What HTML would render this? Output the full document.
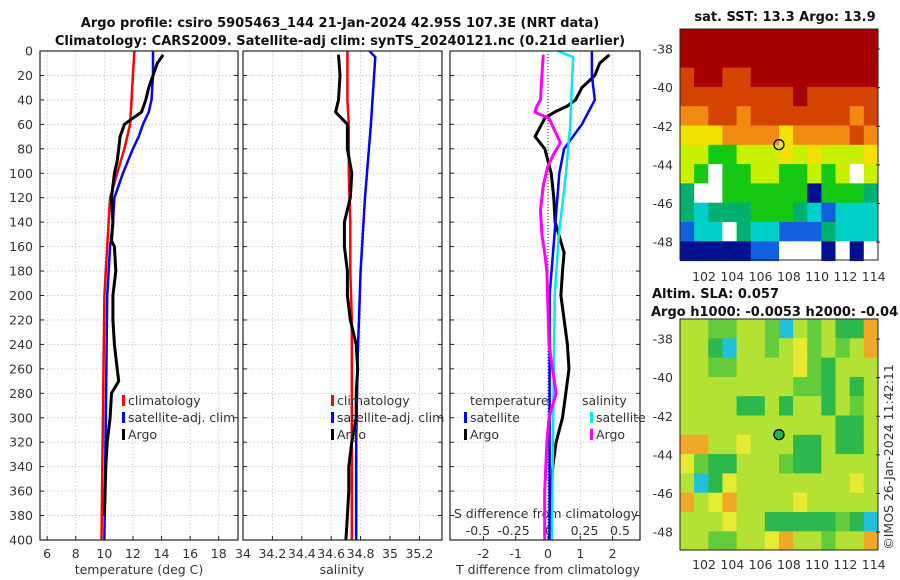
<!DOCTYPE html>
<html><head><meta charset="utf-8">
<style>
html,body{margin:0;padding:0;background:#fff;}
svg{display:block;font-family:"DejaVu Sans","Liberation Sans",sans-serif;}
.t{font-size:12.5px;fill:#333;}
.b{font-size:13px;font-weight:bold;fill:#111;}
</style></head>
<body>
<svg id="fig" width="900" height="580" viewBox="0 0 900 580">
<defs>
<clipPath id="clip2"><rect x="680" y="319" width="198" height="231"/></clipPath>
</defs>
<text class="b" x="340" y="27" text-anchor="middle">Argo profile: csiro 5905463_144 21-Jan-2024 42.95S 107.3E (NRT data)</text>
<text class="b" x="340" y="45" text-anchor="middle">Climatology: CARS2009. Satellite-adj clim: synTS_20240121.nc (0.21d earlier)</text>
<g id="g"></g>
</svg>
<script>
// ---------- data ----------
const depthTicks=[0,20,40,60,80,100,120,140,160,180,200,220,240,260,280,300,320,340,360,380,400];
const tempTicks=[6,8,10,12,14,16,18];
const salTicks=[34,34.2,34.4,34.6,34.8,35,35.2];
const salTickLabels=["34","34.2","34.4","34.6","34.8","35","35.2"];
const dtTicks=[-2,-1,0,1,2];
const dsTicks=[-0.5,-0.25,0,0.25,0.5];
const dsTickLabels=["-0.5","-0.25","0","0.25","0.5"];

const tClimD=[0,20,40,60,80,100,120,160,200,300,400];
const tClimV=[12.1,12.0,11.9,11.8,11.4,10.9,10.4,10.2,10.0,9.9,9.8];
const tSatD=[0,20,40,50,60,70,80,100,120,140,160,200,300,400];
const tSatV=[13.4,13.4,13.3,13.1,12.7,12.4,12.0,11.3,10.7,10.6,10.4,10.2,10.1,10.0];
const tArgoD=[3,5,10,20,30,40,50,55,60,70,80,90,100,120,140,155,160,180,200,220,240,260,270,280,300,320,340,380];
const tArgoV=[14.1,14.0,13.7,13.4,13.1,12.9,12.6,12.0,11.4,11.1,11.0,10.9,10.7,10.5,10.6,10.5,10.7,10.8,10.6,10.6,10.7,10.9,11.0,10.5,10.4,10.2,10.1,10.0];

const sClimD=[0,40,60,100,140,180,220,300,400];
const sClimV=[34.71,34.71,34.72,34.72,34.73,34.73,34.74,34.74,34.74];
const sSatD=[0,5,60,120,180,250,320,400];
const sSatV=[34.86,34.9,34.87,34.83,34.8,34.78,34.77,34.77];
const sArgoD=[3,20,40,50,60,80,100,120,140,160,180,200,220,240,260,280,300,320,340,360,380,400];
const sArgoV=[34.65,34.66,34.65,34.63,34.71,34.71,34.74,34.73,34.69,34.69,34.71,34.71,34.73,34.77,34.78,34.77,34.77,34.74,34.72,34.72,34.71,34.70];

const dtSatD=[0,20,40,60,80,100,150,200,300,400];
const dtSatV=[1.36,1.36,1.45,1.05,0.5,0.35,0.2,0.05,0.05,0.05];
const dtArgoD=[3,10,20,30,40,45,50,55,70,80,90,100,120,140,165,180,200,240,260,280,300,320,340,360,400];
const dtArgoV=[1.9,1.6,1.45,1.05,0.85,0.6,0.2,-0.1,-0.4,-0.1,0.0,0.1,0.18,0.22,0.5,0.45,0.4,0.6,0.65,0.55,0.45,0.25,0.15,0.1,0.05];
const dsSatD=[0,5,60,100,150,200,300,400];
const dsSatV=[0.06,0.17,0.15,0.12,0.07,0.04,0.03,0.02];
const dsArgoD=[3,20,40,45,50,55,65,75,85,95,110,130,150,165,180,200,240,280,300,320,360,400];
const dsArgoV=[-0.04,-0.05,-0.06,-0.085,-0.1,0.0,0.04,0.08,0.03,-0.01,-0.04,-0.06,-0.05,-0.03,-0.015,-0.01,0.0,0.05,0.0,-0.015,-0.03,-0.03];

const mapLonTicks=[102,104,106,108,110,112,114];
const mapLatTicks=[-38,-40,-42,-44,-46,-48];
const sstRows=["RRRRRRRRRRRRRR","RRRRRRRRRRRRRR","ORROORRRRRRRRR","OOOOOOOOROOOOO","ooOOoOOOOOOOoO","YYYooooYooooOo","yyGGyyyYyYyyyY","yG.GGyyGGyGy.y","g..GGGGGGNGGGg","gCgggGGGgCBCCC","BCC.gCCBBBgCCC","NNNNNBB...N.N."];
const slaRows=["33223320323115","33103323423235","33223333421333","33333333221313","33331131331323","33333333333113","55334333113113","42113332113333","30143333333343","53453333433333","33343311111210","33223345332335"];
const argoLon=107.3, argoLat=-42.95;

// ---------- helpers ----------
const NS="http://www.w3.org/2000/svg";
const G=document.getElementById('g');
function mk(tag,attrs,parent){const e=document.createElementNS(NS,tag);for(const k in attrs)e.setAttribute(k,attrs[k]);(parent||G).appendChild(e);return e;}
const py=d=>51+d*1.2225;
const pT=v=>40+(v-5.5)*14.3;
const pS=v=>243+(v-34)*147;
const pDT=v=>548+v*32.3;
const pDS=v=>549+v*142;
const mx=lon=>680+(lon-100.3)*14.14;
const my1=lat=>29+(-36.96-lat)*19.3;
const my2=lat=>319+(-36.96-lat)*19.3;

function frame(x0,x1,name){
  const r=mk('rect',{x:x0,y:51,width:x1-x0,height:489,fill:'none',stroke:'#222','stroke-width':1.2});
  
  
}
function grid(x0,x1,xs){
  depthTicks.forEach(d=>{
    const l=mk('line',{x1:x0,x2:x1,y1:py(d),y2:py(d),stroke:'#b8c4ec','stroke-dasharray':'1.5,2','stroke-width':0.8});
    
    
    mk('line',{x1:x0,x2:x0+4,y1:py(d),y2:py(d),stroke:'#222'});
    mk('line',{x1:x1-4,x2:x1,y1:py(d),y2:py(d),stroke:'#222'});
  });
  xs.forEach(x=>{
    const l=mk('line',{x1:x,x2:x,y1:51,y2:540,stroke:'#d4bcd8','stroke-dasharray':'1.5,2','stroke-width':0.8});
    
    
    mk('line',{x1:x,x2:x,y1:536,y2:540,stroke:'#222'});
  });
}
function line(D,V,fx,color,w,name){
  const pts=D.map((d,i)=>fx(V[i]).toFixed(1)+','+py(d).toFixed(1)).join(' ');
  const p=mk('polyline',{points:pts,fill:'none',stroke:color,'stroke-width':w,'stroke-linejoin':'round'});
  
  
}
function txt(x,y,s,anchor,cls,name,extra){
  const t=mk('text',Object.assign({x:x,y:y,'text-anchor':anchor||'start',class:cls||'t'},extra||{}));
  t.textContent=s;
  
  
  return t;
}
function legend(x,y,color,label,name){
  const r=mk('rect',{x:x,y:y-10,width:3,height:11,fill:color});
  
  
  txt(x+6,y,label,'start','t',name);
}

// ---------- panel 1: temperature ----------
grid(40,238,tempTicks.map(pT));
depthTicks.forEach(d=>txt(33,py(d)+4.5,String(d),'end','t','y-tick-label'));
tempTicks.forEach(v=>txt(pT(v),558,String(v),'middle','t','x-tick-label-temp'));
txt(139,574,'temperature (deg C)','middle','t','x-axis-title-temp');
line(tClimD,tClimV,pT,'#ff0000',2.5,'temp-climatology-line');
line(tSatD,tSatV,pT,'#0000ff',2.5,'temp-satellite-line');
line(tArgoD,tArgoV,pT,'#000000',3,'temp-argo-line');
frame(40,238,'temperature-panel');
legend(122,405,'#ff0000','climatology','legend-climatology');
legend(122,422,'#0000ff','satellite-adj. clim','legend-satellite');
legend(122,439,'#000000','Argo','legend-argo');

// ---------- panel 2: salinity ----------
grid(243,442,salTicks.map(pS));
salTicks.forEach((v,i)=>txt(pS(v),558,salTickLabels[i],'middle','t','x-tick-label-sal'));
txt(342,574,'salinity','middle','t','x-axis-title-sal');
line(sClimD,sClimV,pS,'#ff0000',2.5,'sal-climatology-line');
line(sSatD,sSatV,pS,'#0000ff',2.5,'sal-satellite-line');
line(sArgoD,sArgoV,pS,'#000000',3,'sal-argo-line');
frame(243,442,'salinity-panel');
legend(331,405,'#ff0000','climatology','legend-climatology-sal');
legend(331,422,'#0000ff','satellite-adj. clim','legend-satellite-sal');
legend(331,439,'#000000','Argo','legend-argo-sal');

// ---------- panel 3: differences ----------
grid(450,640,dtTicks.map(pDT));
dtTicks.forEach(v=>txt(pDT(v),558,String(v),'middle','t','x-tick-label-dt'));
txt(548,574,'T difference from climatology','middle','t','x-axis-title-dt');
txt(546,518,'S difference from climatology','middle','t','s-axis-title');
dsTicks.forEach((v,i)=>txt(pDS(v),535,dsTickLabels[i],'middle','t','s-tick-label'));
const z=mk('line',{x1:pDT(0),x2:pDT(0),y1:51,y2:540,stroke:'#333','stroke-dasharray':'1,2','stroke-width':1});


line(dtArgoD,dtArgoV,pDT,'#000000',3,'dt-argo-line');
line(dtSatD,dtSatV,pDT,'#0000ff',2.5,'dt-satellite-line');
line(dsSatD,dsSatV,pDS,'#00e8f0',2.5,'ds-satellite-line');
line(dsArgoD,dsArgoV,pDS,'#ff00ff',3,'ds-argo-line');
frame(450,640,'difference-panel');
txt(470,405,'temperature','start','t','legend-title-temperature');
txt(582,405,'salinity','start','t','legend-title-salinity');
legend(464,422,'#0000ff','satellite','legend-dt-satellite');
legend(464,439,'#000000','Argo','legend-dt-argo');
legend(590,422,'#00e8f0','satellite','legend-ds-satellite');
legend(590,439,'#ff00ff','Argo','legend-ds-argo');

// ---------- map 1: SST ----------
const sstCol={R:'#a80000',O:'#d44400',o:'#f08a10',Y:'#f2e000',y:'#c8f000',G:'#14c814',g:'#00b070',C:'#00d0c8',B:'#1060e0',N:'#001090','.':'#ffffff'};
txt(785,21,'sat. SST: 13.3 Argo: 13.9','middle','b','sst-map-title');
sstRows.forEach((row,r)=>{
  for(let c=0;c<row.length;c++){
    const lon0=100.3+c, lat0=-36.96-r;
    const cell=mk('rect',{x:mx(lon0).toFixed(1),y:my1(lat0).toFixed(1),width:14.6,height:19.8,fill:sstCol[row[c]]});
    
    
  }
});
const f1=mk('rect',{x:680,y:29,width:198,height:231,fill:'none',stroke:'#222'});


mapLatTicks.forEach(l=>{txt(673,my1(l)+4.5,String(l),'end','t','sst-lat-label');mk('line',{x1:876,x2:880,y1:my1(l),y2:my1(l),stroke:'#222'});});
mapLonTicks.forEach(l=>txt(mx(l),281,String(l),'middle','t','sst-lon-label'));
const c1=mk('circle',{cx:mx(argoLon),cy:my1(argoLat),r:5,fill:'none',stroke:'#000','stroke-width':1.3});



// ---------- map 2: SLA ----------
const slaCol=['#20c0d8','#2cb84c','#64cc3c','#b4e234','#e6ea30','#f0a828'];
txt(652,298,'Altim. SLA: 0.057','start','b','sla-map-title');
txt(651,316,'Argo h1000: -0.0053 h2000: -0.04','start','b','sla-map-subtitle');
const sg=mk('g',{'clip-path':'url(#clip2)'});
mk('rect',{x:680,y:319,width:198,height:231,fill:'#b4e234'},sg);
slaRows.forEach((row,r)=>{
  for(let c=0;c<row.length;c++){
    const lon0=100.3+c, lat0=-36.96-r;
    const cell=mk('rect',{x:mx(lon0).toFixed(1),y:my2(lat0).toFixed(1),width:14.6,height:19.8,fill:slaCol[+row[c]]},sg);
    
    
  }
});
const f2=mk('rect',{x:680,y:319,width:198,height:231,fill:'none',stroke:'#222'});


mapLatTicks.forEach(l=>{txt(673,my2(l)+4.5,String(l),'end','t','sla-lat-label');mk('line',{x1:876,x2:880,y1:my2(l),y2:my2(l),stroke:'#222'});});
mapLonTicks.forEach(l=>txt(mx(l),569,String(l),'middle','t','sla-lon-label'));
const c2=mk('circle',{cx:mx(argoLon),cy:my2(argoLat),r:5,fill:'#20b848',stroke:'#000','stroke-width':1.3});


txt(0,0,'©IMOS 26-Jan-2024 11:42:11','middle','t','copyright-note',{transform:'translate(893,457) rotate(-90)'});
</script>
</body></html>
